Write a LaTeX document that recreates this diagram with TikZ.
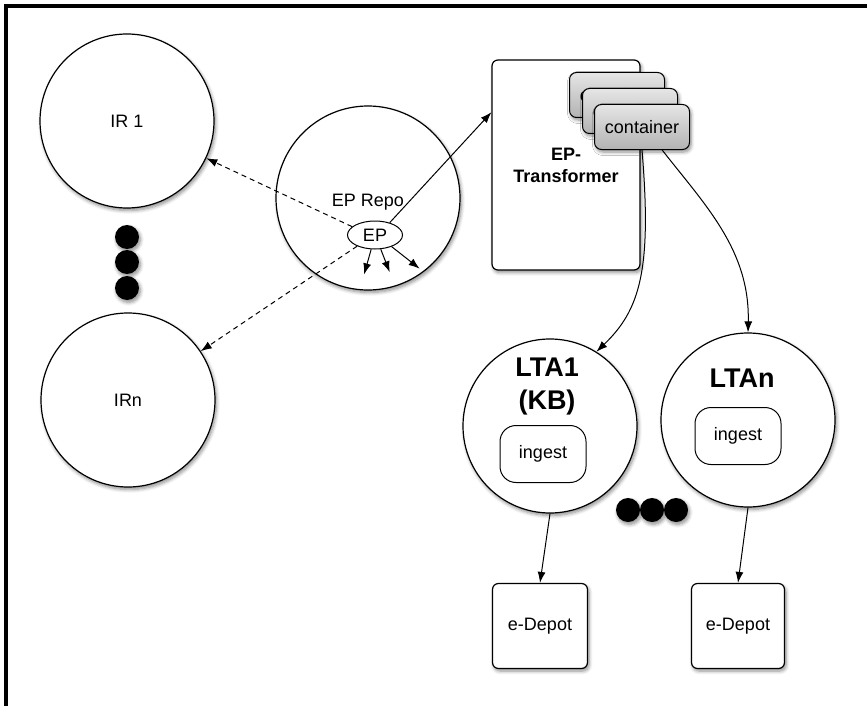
\documentclass[tikz,border=0pt]{standalone}
\usepackage{fontspec}
\setmainfont{Liberation Sans}
\usetikzlibrary{shapes.geometric,arrows.meta,shadows.blur,calc}

\begin{document}
\begin{tikzpicture}[x=1pt,y=-1pt,
  soft/.style={blur shadow={shadow blur steps=6, shadow xshift=1.5pt,
      shadow yshift=-2.5pt, shadow blur radius=3.5pt, shadow opacity=45}},
  txt/.style={font=\fontsize{18}{20}\selectfont},
  site/.style={circle, draw, line width=1.2pt, fill=white, inner sep=0pt,
      minimum size=174pt, txt, soft},
  dot/.style={circle, fill=black, inner sep=0pt, minimum size=24pt, soft},
  box/.style={draw, line width=1.2pt, fill=white, rounded corners=6pt,
      inner sep=0pt, txt, soft},
  cont/.style={draw, line width=1pt, rounded corners=7pt, top color=gray!20,
      bottom color=gray!60, minimum width=95pt, minimum height=45pt,
      inner sep=0pt, txt, soft},
  task/.style={draw, line width=1pt, fill=white, rounded corners=16pt,
      minimum width=86pt, minimum height=57pt, inner sep=0pt, txt},
  arr/.style={-{Latex[length=11pt,width=8pt]}, line width=1pt},
  dasharr/.style={arr, dash pattern=on 5pt off 4pt}
]
\useasboundingbox (0,0) rectangle (867,706);

% frame edges
\draw[line width=4.5pt] (6,706) -- (6,6) -- (867,6);

% institutional repositories
\node[site] (ir1) at (127,121) {IR 1};
\node[site] (irn) at (128,400) {IRn};
\node[dot] (v1) at (127,237) {};
\node[dot] (v2) at (127,262) {};
\node[dot] (v3) at (127,288) {};

% EP repository
\node[site, minimum size=184pt] (repo) at (368,198) {};
\node[txt] (repolabel) at (368,202) {EP Repo};
\node[ellipse, draw, line width=1pt, fill=white, minimum width=55pt,
      minimum height=28pt, inner sep=0pt, txt] (ep) at (375,235) {EP};

% transformer with its containers
\node[box, minimum width=148pt, minimum height=210pt,
      font=\fontsize{18}{22}\selectfont\bfseries, align=center]
      (tr) at (566,165) {EP-\\Transformer};
\node[cont] (c3) at (617,95) {container};
\node[cont] (c2) at (630,111) {container};
\node[cont] (c1) at (642,127) {container};

% long-term archives
\node[site] (lta1) at (550,426) {};
\node[font=\fontsize{27}{33}\selectfont\bfseries, align=center]
      (lta1label) at (547,387) {LTA1\\(KB)};
\node[task] (ing1) at (543,454) {ingest};
\node[site] (ltan) at (748,420) {};
\node[font=\fontsize{27}{32}\selectfont\bfseries] (ltanlabel) at (742,378) {LTAn};
\node[task] (ingn) at (738,436) {ingest};
\node[dot] (h1) at (628,510) {};
\node[dot] (h2) at (652,510) {};
\node[dot] (h3) at (676,510) {};

% deposit systems
\node[box, minimum width=95pt, minimum height=85pt] (d1) at (540,626) {e-Depot};
\node[box, minimum width=93pt, minimum height=85pt] (dn) at (738,626) {e-Depot};

% connectors
\draw[dasharr] (ep.160) -- (ir1);
\draw[dasharr] (ep.212) -- (irn);
\draw[arr] (ep.40) -- ($(tr.north west)!0.25!(tr.south west)$);
\draw[arr] (ep.255) -- ++(-7,25);
\draw[arr] (ep.292) -- ++(9,23);
\draw[arr] (ep.325) -- ++(28,22);
\draw[arr] (c1.south) .. controls (652,270) and (640,310) .. (lta1.58);
\draw[arr] ($(c1.south west)!0.71!(c1.south east)$)
      .. controls (705,205) and (750,250) .. (ltan.north);
\draw[arr] (lta1.south) -- (d1.north);
\draw[arr] (ltan.south) -- (dn.north);
\end{tikzpicture}
\end{document}
